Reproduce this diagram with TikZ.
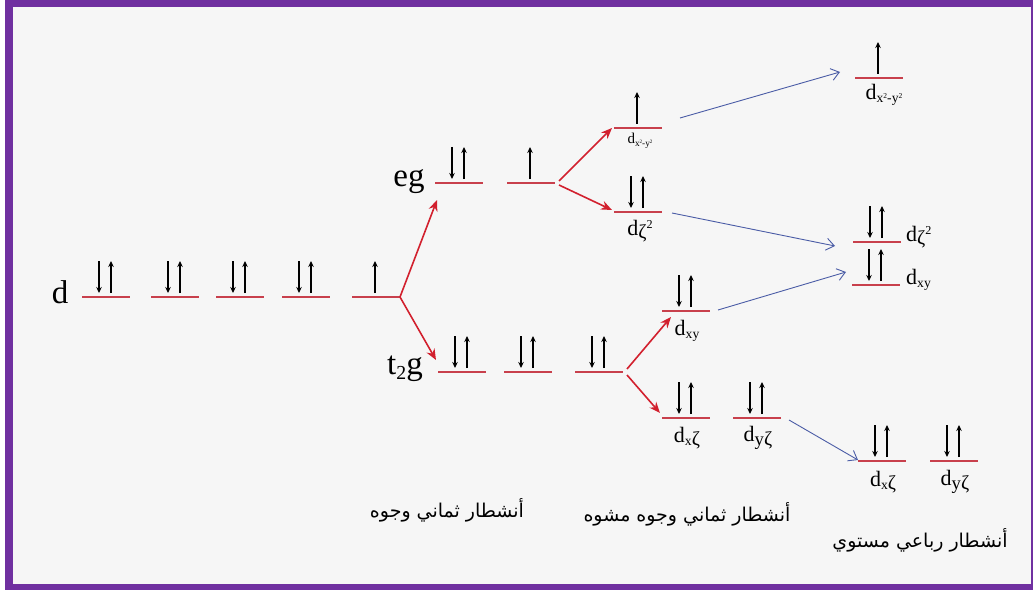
\documentclass[tikz,border=0pt]{standalone}
\usepackage{fontspec}
\setmainfont{Liberation Serif}
\newfontfamily\arabicfont[Script=Arabic]{DejaVu Sans}
\TeXXeTstate=1
\usetikzlibrary{arrows.meta,calc}

\definecolor{framepurple}{HTML}{7030A0}
\definecolor{paper}{HTML}{F6F6F6}
\definecolor{lvl}{HTML}{C8404C}
\definecolor{splitred}{HTML}{D2202E}
\definecolor{driftblue}{HTML}{4A5CA6}

\tikzset{
  level/.style={draw=lvl, line width=1.2pt},
  spin/.style={-{Stealth[length=6pt,width=5.5pt]}, line width=1.4pt},
  split/.style={draw=splitred, line width=1.6pt, -{Stealth[length=11pt,width=9pt]}},
  drift/.style={draw=driftblue, line width=0.9pt, -{Straight Barb[length=8pt,width=12pt]}},
  big/.style={font=\fontsize{33}{35}\selectfont, anchor=base, inner sep=0pt},
  orb/.style={font=\fontsize{22}{24}\selectfont, inner sep=0pt},
  orbsmall/.style={font=\fontsize{15}{17}\selectfont, inner sep=0pt},
  arab/.style={font=\arabicfont\fontsize{19}{21}\selectfont, inner sep=0pt}
}

% one level: name, left x, y
\newcommand\lev[3]{\draw[level] (#2,#3) coordinate (#1-w) -- coordinate (#1) ++(48,0) coordinate (#1-e);}
% electrons on a level
\newcommand\spinpair[1]{\draw[spin] ($(#1)+(-7,-36)$) -- ++(0,32); \draw[spin] ($(#1)+(5,-4)$) -- ++(0,-32);}
\newcommand\spinup[1]{\draw[spin] ($(#1)+(-1,-4)$) -- ++(0,-32);}
% lowered index, optional scale
\newcommand\lo[2][0.62]{\raisebox{-0.35ex}{\scalebox{#1}{#2}}}
\newcommand\hi[1]{\raisebox{0.7ex}{\scalebox{0.55}{#1}}}

\begin{document}
\begin{tikzpicture}[x=1pt,y=-1pt]
  \useasboundingbox (0,0) rectangle (1033,591);
  \fill[framepurple] (5,0) rectangle (1033,590);
  \fill[paper] (13,7) rectangle (1031,584);

  % free ion
  \node[big] (dlab) at (60,303) {d};
  \foreach \n/\x in {1/82,2/151,3/216,4/282,5/352} \lev{d\n}{\x}{297};
  \foreach \n in {1,...,4} \spinpair{d\n};
  \spinup{d5}

  % octahedral field
  \node[big] (eglab) at (409,186) {eg};
  \lev{eg1}{435}{183} \lev{eg2}{507}{183}
  \spinpair{eg1} \spinup{eg2}
  \node[big] (tlab) at (405,374) {t\lo[0.6]{2}g};
  \foreach \n/\x in {1/438,2/504,3/575} {\lev{t\n}{\x}{372} \spinpair{t\n}}

  % elongated octahedron
  \lev{el-x2y2}{614}{128} \spinup{el-x2y2}
  \lev{el-z2}{614}{212} \spinpair{el-z2}
  \lev{el-xy}{662}{311} \spinpair{el-xy}
  \lev{el-xz}{662}{418} \spinpair{el-xz}
  \lev{el-yz}{733}{418} \spinpair{el-yz}
  \node[orbsmall] (el-x2y2-lab) at (640,141) {d\lo{x\hi{2}-y\hi{2}}};
  \node[orb] (el-z2-lab) at (640,231) {d\lo[0.9]{ζ}\hi{2}};
  \node[orb] (el-xy-lab) at (687,331) {d\lo{xy}};
  \node[orb] (el-xz-lab) at (687,438) {d\lo{x}\lo[0.9]{ζ}};
  \node[orb] (el-yz-lab) at (758,438) {d\lo[0.85]{y}\lo[0.9]{ζ}};

  % square planar
  \lev{sq-x2y2}{855}{78} \spinup{sq-x2y2}
  \lev{sq-z2}{853}{242} \spinpair{sq-z2}
  \lev{sq-xy}{852}{285} \spinpair{sq-xy}
  \lev{sq-xz}{858}{461} \spinpair{sq-xz}
  \lev{sq-yz}{930}{461} \spinpair{sq-yz}
  \node[orb] (sq-x2y2-lab) at (884,95) {d\lo{x\hi{2}-y\hi{2}}};
  \node[orb, anchor=west] (sq-z2-lab) at (906,237) {d\lo[0.9]{ζ}\hi{2}};
  \node[orb, anchor=west] (sq-xy-lab) at (906,280) {d\lo{xy}};
  \node[orb] (sq-xz-lab) at (883,482) {d\lo{x}\lo[0.9]{ζ}};
  \node[orb] (sq-yz-lab) at (955,482) {d\lo[0.85]{y}\lo[0.9]{ζ}};

  % splitting arrows
  \draw[split] (d5-e) -- ($(eg1-w)+(2,17)$);
  \draw[split] (d5-e) -- ($(t1-w)+(-2,-12)$);
  \draw[split] ($(eg2-e)+(4,-2)$) -- ($(el-x2y2-w)+(-2,0)$);
  \draw[split] ($(eg2-e)+(4,2)$) -- ($(el-z2-w)+(-2,-2)$);
  \draw[split] ($(t3-e)+(4,-3)$) -- ($(el-xy-w)+(9,6)$);
  \draw[split] ($(t3-e)+(4,3)$) -- ($(el-xz-w)+(-2,-5)$);
  \draw[drift] ($(el-x2y2-e)+(18,-10)$) -- ($(sq-x2y2-w)+(-15,-6)$);
  \draw[drift] ($(el-z2-e)+(10,1)$) -- ($(sq-z2-w)+(-18,4)$);
  \draw[drift] ($(el-xy-e)+(8,-1)$) -- ($(sq-xy-w)+(-6,-13)$);
  \draw[drift] ($(el-yz-e)+(8,2)$) -- ($(sq-xz-w)+(0,-1)$);

  % field names
  \node[arab] (octa) at (447,510) {\beginR أنشطار ثماني وجوه\endR};
  \node[arab] (dist) at (687,514) {\beginR أنشطار ثماني وجوه مشوه\endR};
  \node[arab] (plan) at (920,540) {\beginR أنشطار رباعي مستوي\endR};
\end{tikzpicture}
\end{document}
